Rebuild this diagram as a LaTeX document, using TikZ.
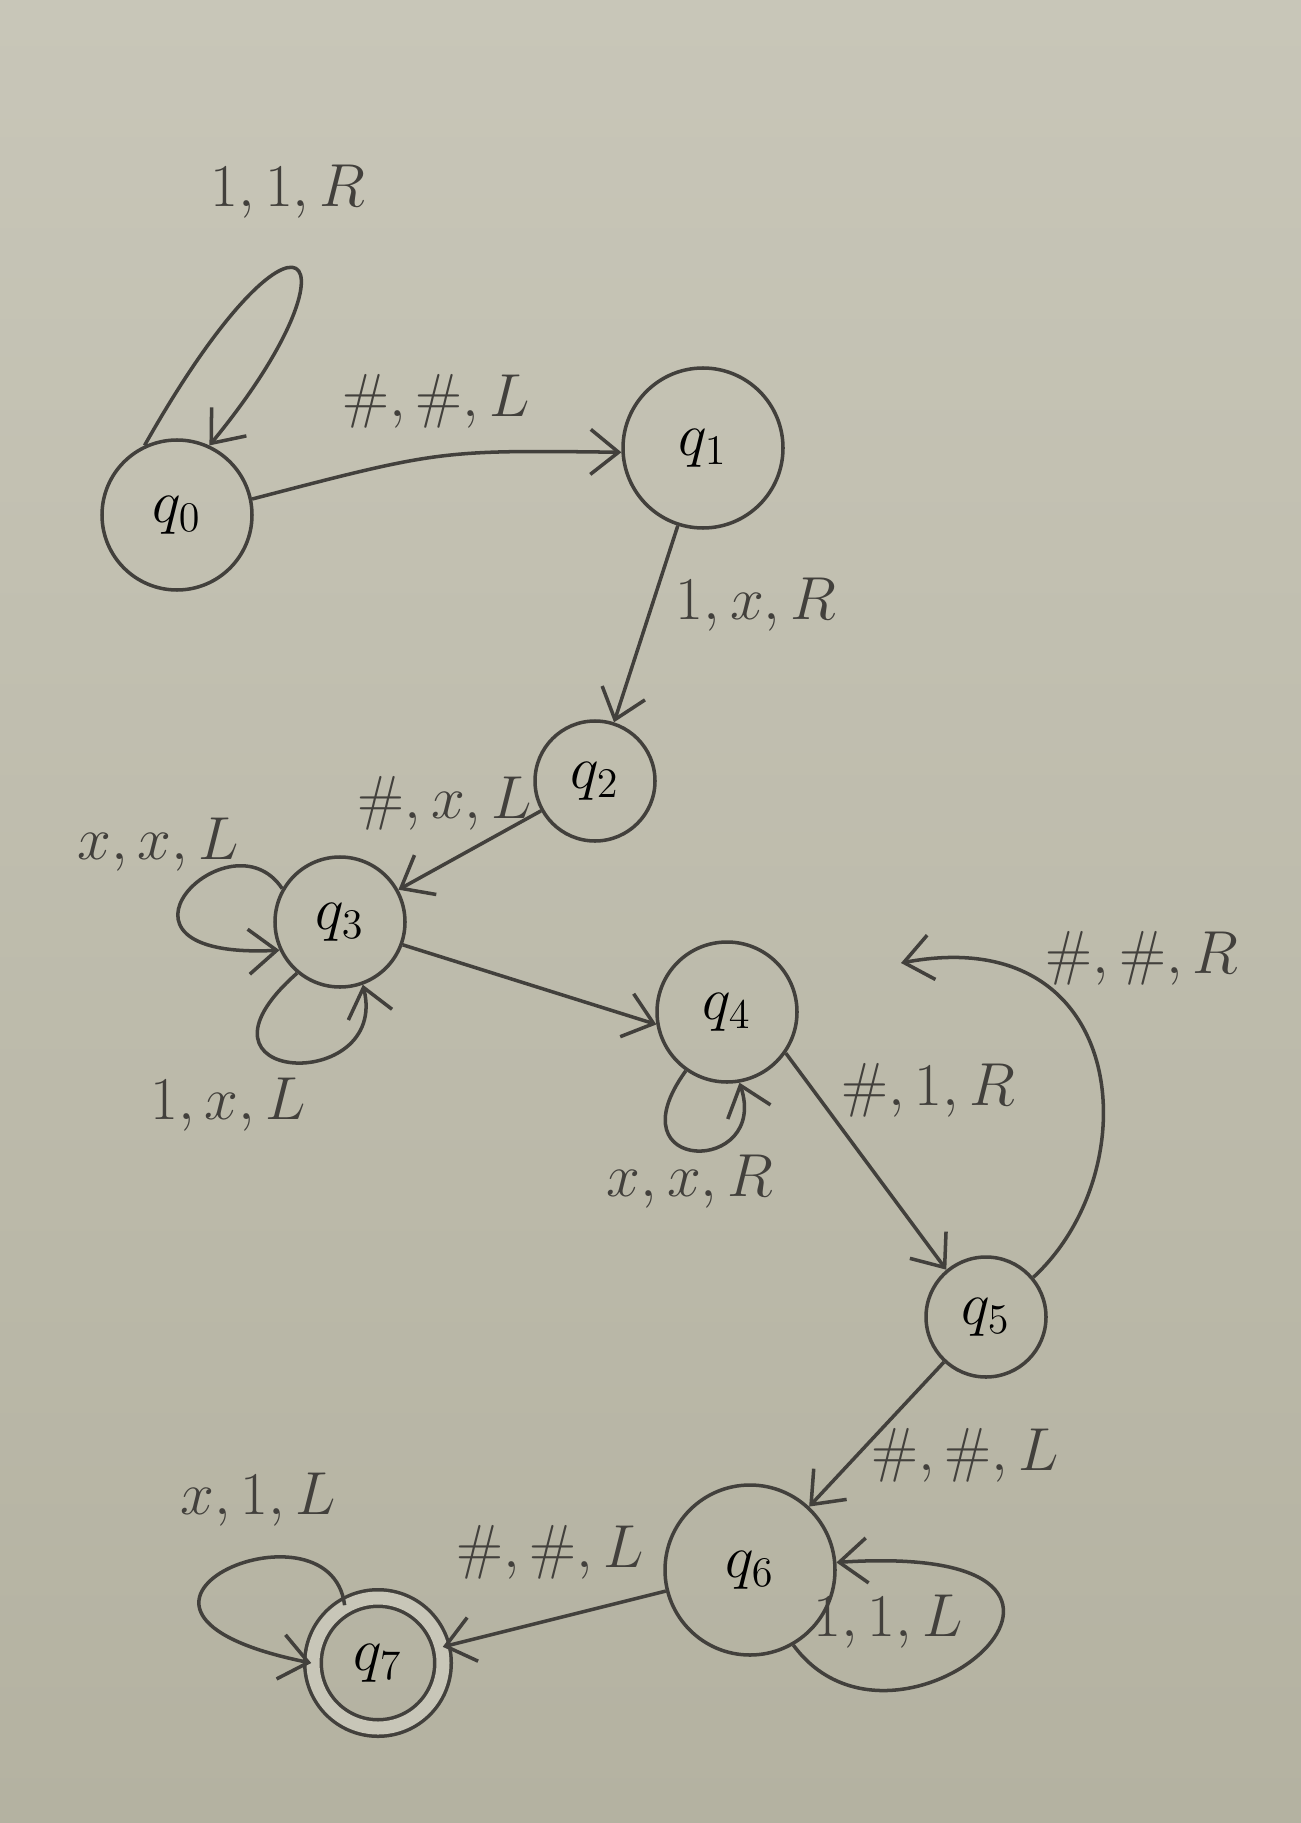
\documentclass[tikz,border=0pt]{standalone}
\usepackage{xcolor}
\usepackage{tikz}
\usetikzlibrary{arrows.meta,positioning,calc}

\definecolor{paper}{RGB}{200,198,184}
\definecolor{paperdark}{RGB}{180,178,161}
\definecolor{ink}{RGB}{66,64,60}

\begin{document}
\begin{tikzpicture}[x=0.1mm,y=-0.1mm,
	state/.style={circle,draw=ink,line width=1pt,inner sep=0pt,font=\LARGE},
	accept/.style={state,double=paper,double distance=1.3mm},
	trans/.style={draw=ink,line width=1pt,-{Straight Barb[length=2.8mm,width=4.5mm]}},
	lbl/.style={text=ink,font=\LARGE}]
	% sheet
	\useasboundingbox (0,0) rectangle (1301,1823);
	\shade[top color=paper,bottom color=paperdark] (0,0) rectangle (1301,1823);
	
	% states
	\node[state,minimum size=15mm] (q0) at (177,515) {$q_0$};
	\node[state,minimum size=16mm] (q1) at (703,448) {$q_1$};
	\node[state,minimum size=12mm] (q2) at (595,781) {$q_2$};
	\node[state,minimum size=13mm] (q3) at (340,922) {$q_3$};
	\node[state,minimum size=14mm] (q4) at (727,1012) {$q_4$};
	\node[state,minimum size=12mm] (q5) at (986,1317) {$q_5$};
	\node[state,minimum size=17mm] (q6) at (750,1570) {$q_6$};
	\node[accept,minimum size=13mm] (q7) at (378,1663) {$q_7$};
	\coordinate (back) at (901,963);
	
	% transitions
	\draw[trans] (q0.115) .. controls (300,170) and (370,250) .. (q0.65);
	\draw[trans] (q0.12) .. controls (440,450) .. (q1.183);
	\draw[trans] (q1) -- (q2);
	\draw[trans] (q2) -- (q3);
	\draw[trans] (q3.150) .. controls (230,810) and (80,960) .. (q3.205);
	\draw[trans] (q3.230) .. controls (170,1085) and (390,1095) .. (q3.290);
	\draw[trans] (q3.-20) -- (q4.190);
	\draw[trans] (q4.235) .. controls (610,1175) and (770,1175) .. (q4.280);
	\draw[trans] (q4.-35) -- (q5.130);
	\draw[trans] (q5.40) .. controls (1150,1170) and (1130,920) .. (back);
	\draw[trans] (q5) -- (q6);
	\draw[trans] (q6.-60) .. controls (900,1790) and (1180,1540) .. (q6.5);
	\draw[trans] (q6) -- (q7);
	\draw[trans] (q7.120) .. controls (330,1490) and (50,1610) .. (q7.180);
	
	% labels
	\node[lbl] (t01) at (288,192) {$1,1,R$};
	\node[lbl] (t02) at (436,401) {$\#,\#,L$};
	\node[lbl] (t03) at (756,605) {$1,x,R$};
	\node[lbl] (t04) at (445,803) {$\#,x,L$};
	\node[lbl] (t05) at (158,845) {$x,x,L$};
	\node[lbl] (t06) at (228,1105) {$1,x,L$};
	\node[lbl] (t07) at (690,1182) {$x,x,R$};
	\node[lbl] (t08) at (928,1090) {$\#,1,R$};
	\node[lbl] (t09) at (1142,958) {$\#,\#,R$};
	\node[lbl] (t10) at (965,1455) {$\#,\#,L$};
	\node[lbl] (t11) at (888,1622) {$1,1,L$};
	\node[lbl] (t12) at (550,1552) {$\#,\#,L$};
	\node[lbl] (t13) at (258,1500) {$x,1,L$};
\end{tikzpicture}
\end{document}
